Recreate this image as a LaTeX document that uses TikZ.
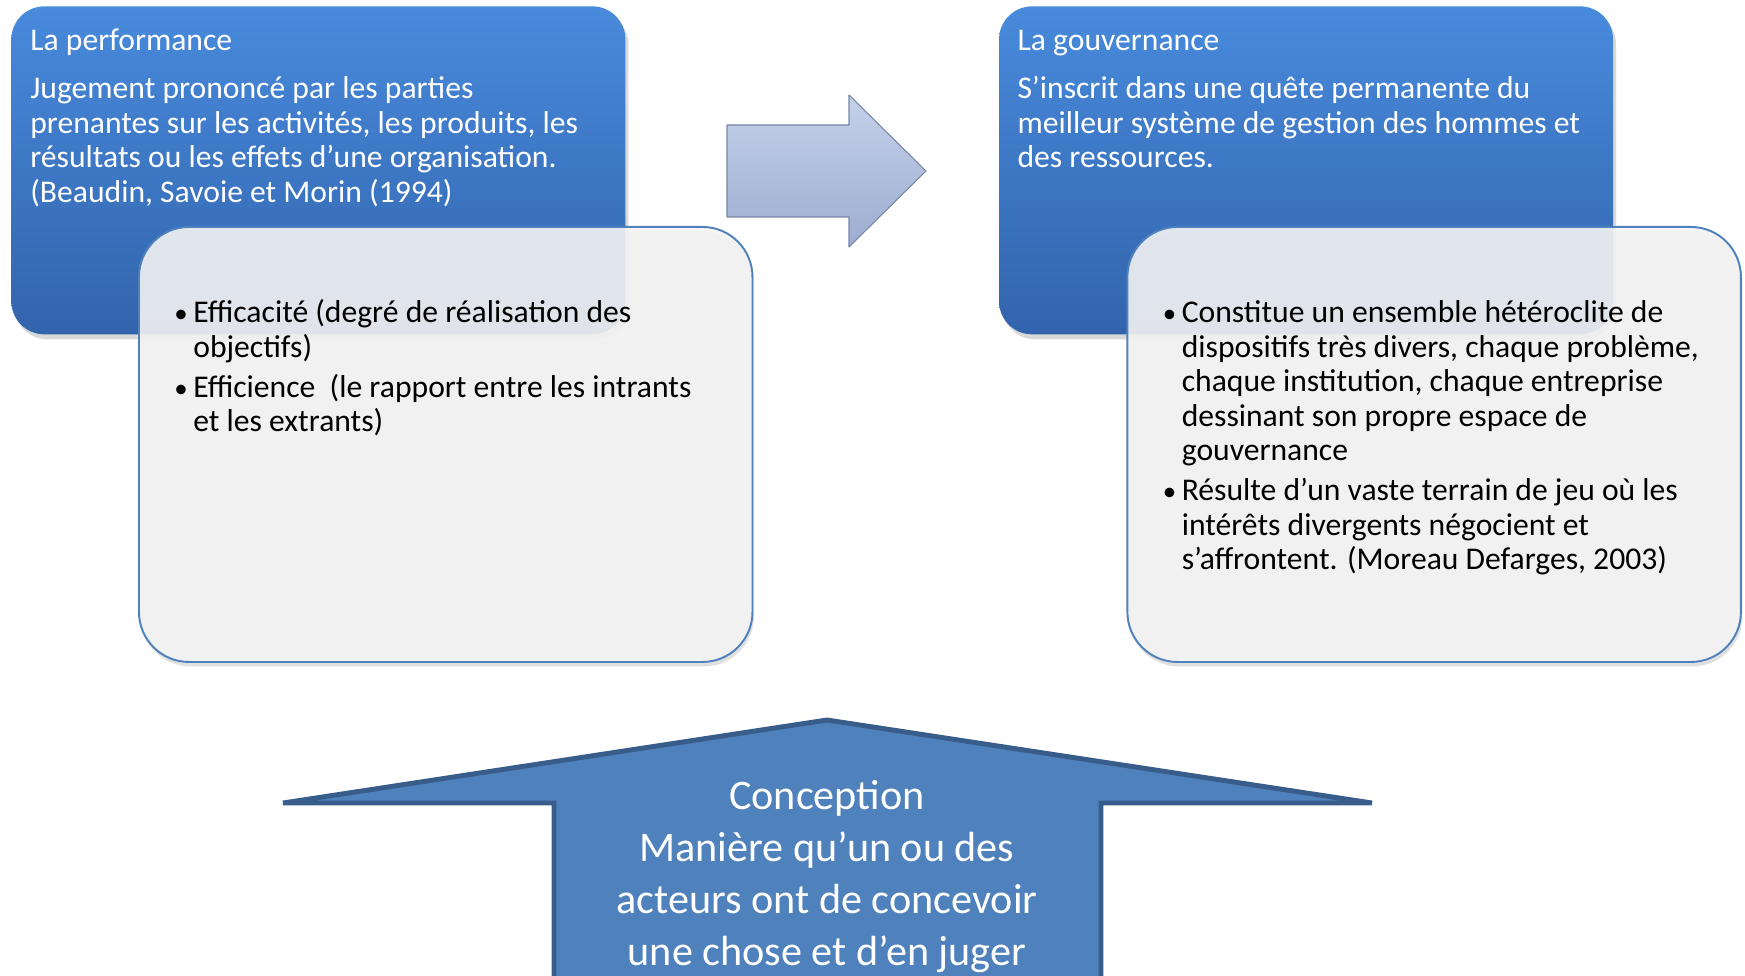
\documentclass[tikz,border=0pt]{standalone}
\usepackage{fontspec}
\setmainfont{Carlito}
\usetikzlibrary{positioning,shadows}
\definecolor{bleuhaut}{RGB}{72,138,220}
\definecolor{bleubas}{RGB}{50,100,172}
\definecolor{bordbleu}{RGB}{79,129,189}
\definecolor{fondgris}{RGB}{244,244,244}
\definecolor{flechehaut}{RGB}{196,209,234}
\definecolor{flechebas}{RGB}{156,173,208}
\definecolor{flechetrait}{RGB}{120,134,165}
\definecolor{conceptfond}{RGB}{79,129,189}
\definecolor{concepttrait}{RGB}{56,93,138}
\newcommand{\puce}{\makebox[0.34cm][l]{\hspace{-0.04cm}\scalebox{0.85}{\textbullet}}}
\newcommand{\suite}{\hspace*{0.34cm}}

\begin{document}
\begin{tikzpicture}[
    bloc/.style={rectangle, rounded corners=0.66cm, minimum width=12.28cm, minimum height=6.56cm, inner sep=0, top color=bleuhaut, bottom color=bleubas, drop shadow={opacity=0.3, shadow xshift=0.06cm, shadow yshift=-0.1cm}},
    liste/.style={rectangle, rounded corners=1cm, minimum width=12.27cm, minimum height=8.7cm, inner sep=0, draw=bordbleu, line width=1.1pt, fill=fondgris, fill opacity=0.9,
        preaction={draw=none, fill=black, fill opacity=0.12, transform canvas={xshift=0.03cm, yshift=-0.09cm}}},
    titre/.style={anchor=base west, inner sep=0, text=white, text width=11.9cm, align=flush left, font=\fontsize{18}{19.6}\selectfont},
    puces/.style={anchor=base west, inner sep=0, text width=11.3cm, align=flush left, font=\fontsize{18}{19.6}\selectfont},
    fleche/.style={top color=flechehaut, bottom color=flechebas, draw=flechetrait, line width=0.6pt, line join=round},
    concept/.style={fill=conceptfond, draw=concepttrait, line width=2.8pt, line join=miter}
]
\useasboundingbox (0,0) rectangle (34.9,19.5);

% La performance
\node[bloc, anchor=north west] (perf) at (0.22,19.38) {};
\node[liste, anchor=north west] (perf-liste) at ([xshift=2.54cm, yshift=-4.4cm]perf.north west) {};
\node[titre] (perf-titre) at ([xshift=0.38cm, yshift=-0.9cm]perf.north west) {La performance};
\node[titre] (perf-def) at ([xshift=0.38cm, yshift=-1.86cm]perf.north west) {Jugement prononcé par les parties\\prenantes sur les activités, les produits, les\\résultats ou les effets d’une organisation.\\(Beaudin, Savoie et Morin (1994)};
\node[puces] (perf-puces) at ([xshift=0.76cm, yshift=-1.94cm]perf-liste.north west) {\puce Efficacité (degré de réalisation des\\\suite objectifs)\\[3.2pt]\puce Efficience\ \ (le rapport entre les intrants\\\suite et les extrants)};

% La gouvernance
\node[bloc, right=7.46cm of perf] (gouv) {};
\node[liste, right=7.46cm of perf-liste] (gouv-liste) {};
\node[titre] (gouv-titre) at ([xshift=0.37cm, yshift=-0.9cm]gouv.north west) {La gouvernance};
\node[titre] (gouv-def) at ([xshift=0.37cm, yshift=-1.86cm]gouv.north west) {S’inscrit dans une quête permanente du\\meilleur système de gestion des hommes et\\des ressources.};
\node[puces] (gouv-puces) at ([xshift=0.76cm, yshift=-1.94cm]gouv-liste.north west) {\puce Constitue un ensemble hétéroclite de\\\suite dispositifs très divers, chaque problème,\\\suite chaque institution, chaque entreprise\\\suite dessinant son propre espace de\\\suite gouvernance\\[3.2pt]\puce Résulte d’un vaste terrain de jeu où les\\\suite intérêts divergents négocient et\\\suite s’affrontent. (Moreau Defarges, 2003)};

% Fleche du milieu
\draw[fleche] (14.54,17.0) -- (16.98,17.0) -- (16.98,17.6) -- (18.52,16.08)
    -- (16.98,14.56) -- (16.98,15.16) -- (14.54,15.16) -- cycle;

% Conception
\coordinate (pointe) at (16.54,5.1);
\draw[concept] (11.08,-0.5) -- (11.08,3.44) -- (5.66,3.44) -- (pointe)
    -- (27.44,3.44) -- (22.02,3.44) -- (22.02,-0.5);
\node[anchor=base, inner sep=0, text=white, text width=10.5cm, align=flush center, font=\fontsize{24}{29.6}\selectfont] (conc) at ([yshift=-1.78cm]pointe)
    {Conception\\Manière qu’un ou des\\acteurs ont de concevoir\\une chose et d’en juger};

\end{tikzpicture}
\end{document}
